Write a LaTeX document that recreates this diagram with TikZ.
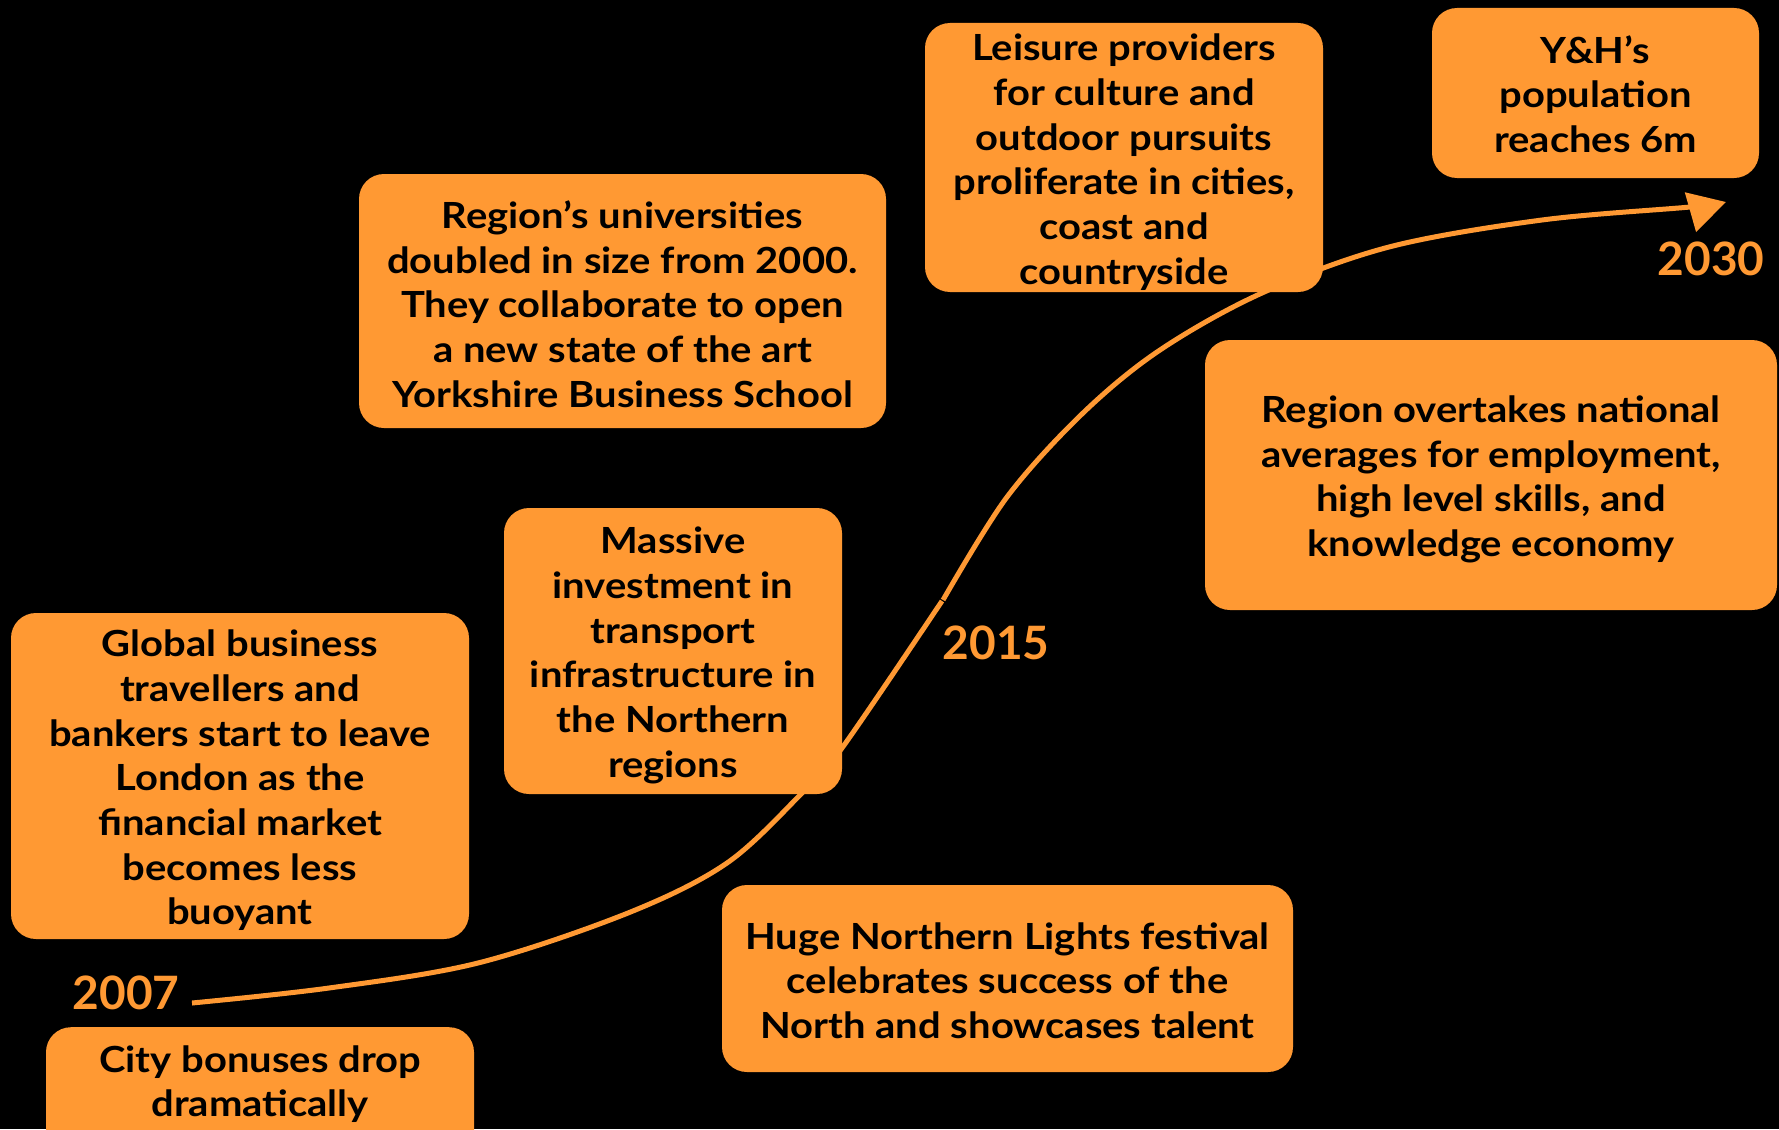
\documentclass[tikz,border=0pt]{standalone}
\usepackage{fontspec}
\setmainfont{Lato}
\newfontfamily\boxfont{Lato}[FakeStretch=1.11]
\usetikzlibrary{arrows.meta}
\definecolor{tlorange}{RGB}{255,153,51}
\tikzset{
  evtext/.style={inner sep=0pt, align=center, text=black,
    font=\boxfont\bfseries\fontsize{36}{44.7}\selectfont},
  evbox/.style={fill=tlorange, draw=none, rounded corners=25pt, inner sep=0pt},
  year/.style={inner sep=0pt, text=tlorange, font=\bfseries\fontsize{46}{50}\selectfont},
  timeline/.style={draw=tlorange, line width=5pt}
}
\begin{document}
\begin{tikzpicture}[x=1pt,y=-1pt]
\fill[black] (0,0) rectangle (1779,1129);
\useasboundingbox (0,0) rectangle (1779,1129);

% timeline anchors
\coordinate (t07) at (192,1003);
\coordinate (t15) at (942,601);
\coordinate (t30) at (1726,202);

\draw[timeline] plot[smooth, tension=0.55] coordinates
  {(t07) (329,988) (478,963) (628,913) (727,863) (802,793) (842,748) (t15)};
\draw[timeline, -{Triangle[length=37pt,width=40pt]}] plot[smooth, tension=0.55] coordinates
  {(943,600) (1007,497) (1083,413) (1160,350) (1262,293) (1389,247) (1542,220) (1690,207) (t30)};

% event boxes
\node[evbox, minimum width=458pt, minimum height=326pt] (glob) at (240,776) {};
\node[evtext] (globt) at ([yshift=-4.5pt]glob.center)
  {Global business\\travellers and\\bankers start to leave\\London as the\\financial market\\becomes less\\buoyant};
\node[evbox, anchor=north, minimum width=428pt, minimum height=160pt] (city) at (260,1027) {};
\node[evtext] (cityt) at (260,1084) {City bonuses drop\\dramatically};
\node[evbox, minimum width=338pt, minimum height=286pt] (mass) at (673,651) {};
\node[evtext] (masst) at ([yshift=-4.5pt]mass.center)
  {Massive\\investment in\\transport\\infrastructure in\\the Northern\\regions};
\node[evbox, minimum width=527pt, minimum height=254pt] (univ) at (622.5,301) {};
\node[evtext] (univt) at ([yshift=-3pt]univ.center)
  {Region’s universities\\doubled in size from 2000.\\They collaborate to open\\a new state of the art\\Yorkshire Business School};
\node[evbox, minimum width=398pt, minimum height=269pt] (leis) at (1124,157.5) {};
\node[evtext] (leist) at ([yshift=-4.5pt]leis.center)
  {Leisure providers\\for culture and\\outdoor pursuits\\proliferate in cities,\\coast and\\countryside};
\node[evbox, minimum width=327pt, minimum height=170pt] (yh) at (1595.5,93) {};
\node[evtext] (yht) at ([yshift=-1pt]yh.center)
  {Y\&H’s\\population\\reaches 6m};
\node[evbox, minimum width=572pt, minimum height=270pt] (over) at (1491,475) {};
\node[evtext] (overt) at ([yshift=-4.5pt]over.center)
  {Region overtakes national\\averages for employment,\\high level skills, and\\knowledge economy};
\node[evbox, minimum width=571pt, minimum height=187pt] (huge) at (1007.5,978.5) {};
\node[evtext] (huget) at ([yshift=-2pt]huge.center)
  {Huge Northern Lights festival\\celebrates success of the\\North and showcases talent};

% year labels
\node[year] (y07) at (126,993) {2007};
\node[year] (y15) at (996,643) {2015};
\node[year] (y30) at (1711,259) {2030};
\end{tikzpicture}
\end{document}
